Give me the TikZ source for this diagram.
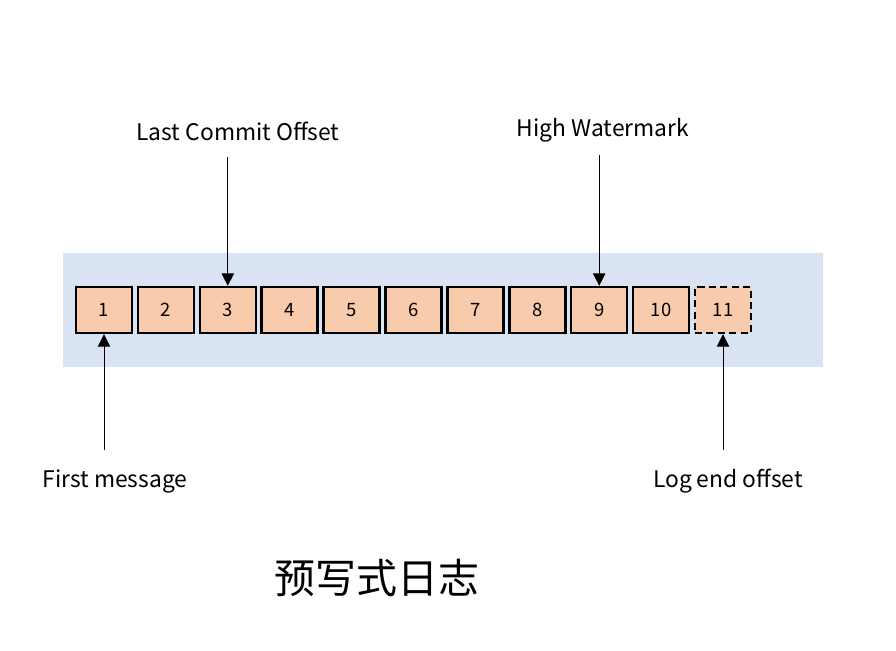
\documentclass[tikz,border=0pt]{standalone}
\usepackage{fontspec}
\setmainfont{Noto Sans CJK SC}
\usetikzlibrary{arrows.meta}
\definecolor{logbg}{HTML}{DAE3F3}
\definecolor{cellfill}{HTML}{F8CBAD}

\begin{document}
\begin{tikzpicture}[x=0.02cm,y=-0.02cm,
  msg/.style={draw,line width=1.4pt,fill=cellfill,minimum width=1.12cm,minimum height=0.92cm,inner sep=0pt,font=\fontsize{10.5}{12}\selectfont},
  ptr/.style={-{Triangle[length=7pt,width=7pt]},line width=0.55pt},
  lbl/.style={font=\fontsize{13}{15}\selectfont}]
\useasboundingbox (0,0) rectangle (896,650);
\fill [logbg] (63,253) rectangle (823,367);
\node [msg] (M1) at (104,310) {1};
\node [msg] (M2) at (165.9,310) {2};
\node [msg] (M3) at (227.8,310) {3};
\node [msg] (M4) at (289.7,310) {4};
\node [msg] (M5) at (351.6,310) {5};
\node [msg] (M6) at (413.5,310) {6};
\node [msg] (M7) at (475.4,310) {7};
\node [msg] (M8) at (537.3,310) {8};
\node [msg] (M9) at (599.2,310) {9};
\node [msg] (M10) at (661.1,310) {10};
\node [msg,dash pattern=on 4pt off 2.5pt] (M11) at (723,310) {11};
\node [lbl] (LCO) at (238,131) {Last Commit Offset};
\node [lbl] (HW) at (603,130) {High Watermark};
\node [lbl] (FM) at (115,481) {First message};
\node [lbl] (LEO) at (728,481) {Log end offset};
\coordinate (LCOtail) at (227.8,157);
\coordinate (HWtail) at (599.2,155);
\coordinate (FMtail) at (104,450);
\coordinate (LEOtail) at (723,450);
\draw [ptr] (LCOtail) -- (M3.north);
\draw [ptr] (HWtail) -- (M9.north);
\draw [ptr] (FMtail) -- (M1.south);
\draw [ptr] (LEOtail) -- (M11.south);
\node [font=\fontsize{23.3}{28}\selectfont] (Title) at (377,578) {预写式日志};
\end{tikzpicture}
\end{document}
